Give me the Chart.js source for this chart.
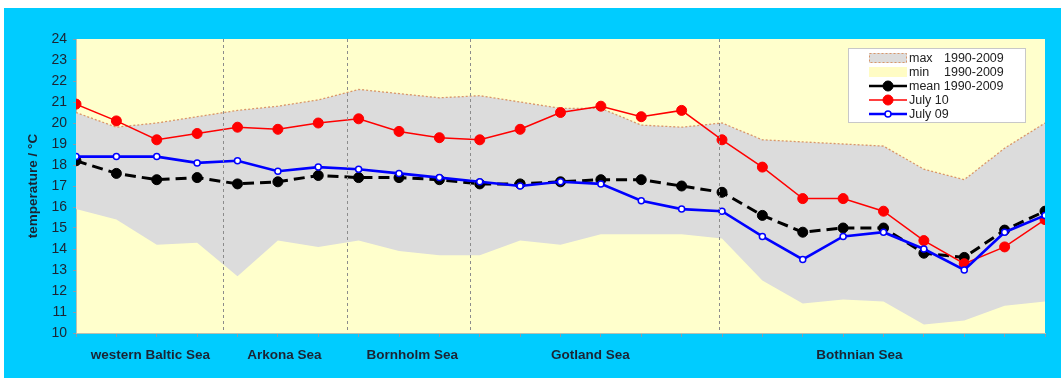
<!DOCTYPE html>
<html>
<head>
<meta charset="utf-8">
<script src="https://cdn.jsdelivr.net/npm/chart.js@4/dist/chart.umd.min.js"></script>
<style>
  html, body { margin: 0; padding: 0; background: #ffffff; }
  #frame { position: absolute; left: 4px; top: 8px; width: 1057px; height: 370px; background: #00ccff; }
  canvas { display: block; }
</style>
</head>
<body>
<div id="frame"><canvas id="chart" width="1057" height="370"></canvas></div>
<script>
// Station positions along the section (index of each monitoring station)
const stationIndex = [0,1,2,3,4,5,6,7,8,9,10,11,12,13,14,15,16,17,18,19,20,21,22,23,24];

// Surface temperature, °C
const maxTemp  = [20.5,19.8,20.0,20.3,20.6,20.8,21.1,21.6,21.4,21.2,21.3,21.0,20.7,20.7,19.9,19.8,20.0,19.2,19.1,19.0,18.9,17.8,17.3,18.8,20.0];
const minTemp  = [15.9,15.4,14.2,14.3,12.7,14.4,14.1,14.4,13.9,13.7,13.7,14.4,14.2,14.7,14.7,14.7,14.5,12.5,11.4,11.6,11.5,10.4,10.6,11.3,11.5];
const meanTemp = [18.2,17.6,17.3,17.4,17.1,17.2,17.5,17.4,17.4,17.3,17.1,17.1,17.2,17.3,17.3,17.0,16.7,15.6,14.8,15.0,15.0,13.8,13.6,14.9,15.8];
const july10   = [20.9,20.1,19.2,19.5,19.8,19.7,20.0,20.2,19.6,19.3,19.2,19.7,20.5,20.8,20.3,20.6,19.2,17.9,16.4,16.4,15.8,14.4,13.3,14.1,15.4];
const july09   = [18.4,18.4,18.4,18.1,18.2,17.7,17.9,17.8,17.6,17.4,17.2,17.0,17.2,17.1,16.3,15.9,15.8,14.6,13.5,14.6,14.8,14.0,13.0,14.8,15.6];

// Sea areas along the section
const regionNames   = ['western Baltic Sea', 'Arkona Sea', 'Bornholm Sea', 'Gotland Sea', 'Bothnian Sea'];
const regionCenters = [1.84, 5.16, 8.33, 12.74, 19.4];
const regionBounds  = [3.65, 6.70, 9.76, 15.93];

// Y axis range and step
const yMin = 10, yMax = 24, yStep = 1;

const pts = arr => arr.map((v, i) => ({ x: stationIndex[i], y: v }));

const TEXT = '#1b2433';
const FONT = '"Liberation Sans", Arial, sans-serif';

// Yellow plot background plus dashed dividers between sea areas
const plotDecor = {
  id: 'plotDecor',
  beforeDraw(chart) {
    const { ctx, chartArea: a } = chart;
    ctx.save();
    ctx.fillStyle = '#ffffcc';
    ctx.fillRect(a.left, a.top, a.right - a.left, a.bottom - a.top);
    ctx.restore();
  },
  afterDatasetsDraw(chart) {
    const { ctx, chartArea: a, scales } = chart;
    ctx.save();
    ctx.strokeStyle = '#8c8c8c';
    ctx.lineWidth = 1;
    ctx.setLineDash([3, 3]);
    regionBounds.forEach(v => {
      const x = Math.round(scales.x.getPixelForValue(v)) + 0.5;
      ctx.beginPath();
      ctx.moveTo(x, a.top);
      ctx.lineTo(x, a.bottom);
      ctx.stroke();
    });
    ctx.restore();
  }
};

// Boxed legend in the upper right of the plot
const boxLegend = {
  id: 'boxLegend',
  afterDraw(chart) {
    const { ctx, chartArea: a } = chart;
    const w = 177, h = 74;
    const bx = a.right - 20 - w, by = a.top + 9;
    ctx.save();
    ctx.fillStyle = '#ffffff';
    ctx.fillRect(bx, by, w, h);
    ctx.strokeStyle = '#c8c8c8';
    ctx.lineWidth = 1;
    ctx.strokeRect(bx + 0.5, by + 0.5, w, h);

    const sx0 = bx + 21, sx1 = bx + 59, tx = bx + 61;
    const rows = [
      { ds: 0, label: 'max', years: '1990-2009' },
      { ds: 1, label: 'min', years: '1990-2009' },
      { ds: 2, label: 'mean', years: '1990-2009' },
      { ds: 3, label: 'July 10' },
      { ds: 4, label: 'July 09' }
    ];
    ctx.font = '12.5px ' + FONT;
    ctx.textBaseline = 'middle';
    rows.forEach((r, i) => {
      const y = by + 10 + i * 14;
      const ds = chart.data.datasets[r.ds];
      if (r.ds === 0) {
        ctx.fillStyle = '#dcdcdc';
        ctx.fillRect(sx0, y - 5, sx1 - sx0, 10);
        ctx.setLineDash([2, 2]);
        ctx.strokeStyle = ds.borderColor;
        ctx.strokeRect(sx0 + 0.5, y - 4.5, sx1 - sx0 - 1, 9);
        ctx.setLineDash([]);
      } else if (r.ds === 1) {
        ctx.fillStyle = '#fffcc4';
        ctx.fillRect(sx0, y - 5, sx1 - sx0, 10);
      } else {
        ctx.strokeStyle = ds.borderColor;
        ctx.lineWidth = Math.min(ds.borderWidth, 2.5);
        ctx.beginPath();
        ctx.moveTo(sx0, y);
        ctx.lineTo(sx1, y);
        ctx.stroke();
        ctx.beginPath();
        ctx.arc((sx0 + sx1) / 2, y, ds.pointRadius, 0, Math.PI * 2);
        ctx.fillStyle = ds.pointBackgroundColor;
        ctx.fill();
        ctx.lineWidth = ds.pointBorderWidth;
        ctx.strokeStyle = ds.pointBorderColor;
        ctx.stroke();
      }
      ctx.fillStyle = '#222222';
      ctx.textAlign = 'left';
      ctx.fillText(r.label, tx, y + 1);
      if (r.years) {
        const yx = r.ds === 2 ? tx + ctx.measureText('mean ').width : tx + 35;
        ctx.fillText(r.years, yx, y + 1);
      }
    });
    ctx.restore();
  }
};

new Chart(document.getElementById('chart'), {
  type: 'line',
  data: {
    datasets: [
      {
        label: 'max 1990-2009',
        data: pts(maxTemp),
        borderColor: '#d9966a',
        borderWidth: 1.3,
        borderDash: [2, 2],
        backgroundColor: '#dcdcdc',
        fill: { target: 1, above: '#dcdcdc', below: '#dcdcdc' },
        pointRadius: 0,
        order: 10
      },
      {
        label: 'min 1990-2009',
        data: pts(minTemp),
        borderWidth: 0,
        borderColor: 'rgba(0,0,0,0)',
        fill: false,
        pointRadius: 0,
        order: 9
      },
      {
        label: 'mean 1990-2009',
        data: pts(meanTemp),
        borderColor: '#000000',
        borderWidth: 3,
        borderDash: [11, 6],
        pointRadius: 5,
        pointBackgroundColor: '#000000',
        pointBorderColor: '#000000',
        pointBorderWidth: 1,
        fill: false,
        order: 3
      },
      {
        label: 'July 10',
        data: pts(july10),
        borderColor: '#ff0000',
        borderWidth: 1.5,
        pointRadius: 5,
        pointBackgroundColor: '#ff0000',
        pointBorderColor: '#ff0000',
        pointBorderWidth: 1,
        fill: false,
        order: 2
      },
      {
        label: 'July 09',
        data: pts(july09),
        borderColor: '#0000ff',
        borderWidth: 2.6,
        pointRadius: 3,
        pointBackgroundColor: '#ffffff',
        pointBorderColor: '#0000ff',
        pointBorderWidth: 1.5,
        fill: false,
        order: 1
      }
    ]
  },
  options: {
    responsive: false,
    animation: false,
    layout: { padding: { top: 31, right: 16, left: 0, bottom: 0 } },
    elements: { line: { tension: 0 } },
    plugins: {
      legend: { display: false },
      tooltip: { enabled: false }
    },
    scales: {
      x: {
        type: 'linear',
        position: 'bottom',
        weight: 0,
        min: 0,
        max: 24,
        ticks: { stepSize: 1, callback: () => '', padding: 0 },
        grid: { drawOnChartArea: false, drawTicks: true, tickLength: 4, color: '#8a9aaa' },
        border: { display: true, color: '#b8c0b0', width: 1 },
        afterFit: s => { s.height = 6; }
      },
      regions: {
        type: 'linear',
        position: 'bottom',
        weight: 1,
        min: 0,
        max: 24,
        afterBuildTicks: s => { s.ticks = regionCenters.map(v => ({ value: v })); },
        ticks: {
          autoSkip: false,
          maxRotation: 0,
          padding: 8,
          color: TEXT,
          font: { family: FONT, size: 13.5, weight: 'bold' },
          callback: (v, i) => regionNames[i]
        },
        grid: { display: false, drawTicks: false },
        border: { display: false },
        afterFit: s => { s.height = 39; }
      },
      y: {
        min: yMin,
        max: yMax,
        ticks: {
          stepSize: yStep,
          padding: 6,
          color: TEXT,
          font: { family: FONT, size: 14 }
        },
        grid: { drawOnChartArea: false, drawTicks: true, tickLength: 3, color: '#8a9aaa' },
        border: { display: true, color: '#b8c0b0', width: 1 },
        title: {
          display: true,
          text: 'temperature / °C',
          color: TEXT,
          font: { family: FONT, size: 13.5, weight: 'bold' },
          padding: { top: 21, bottom: 0 }
        },
        afterFit: s => { s.width = 72; }
      }
    }
  },
  plugins: [plotDecor, boxLegend]
});
</script>
</body>
</html>
